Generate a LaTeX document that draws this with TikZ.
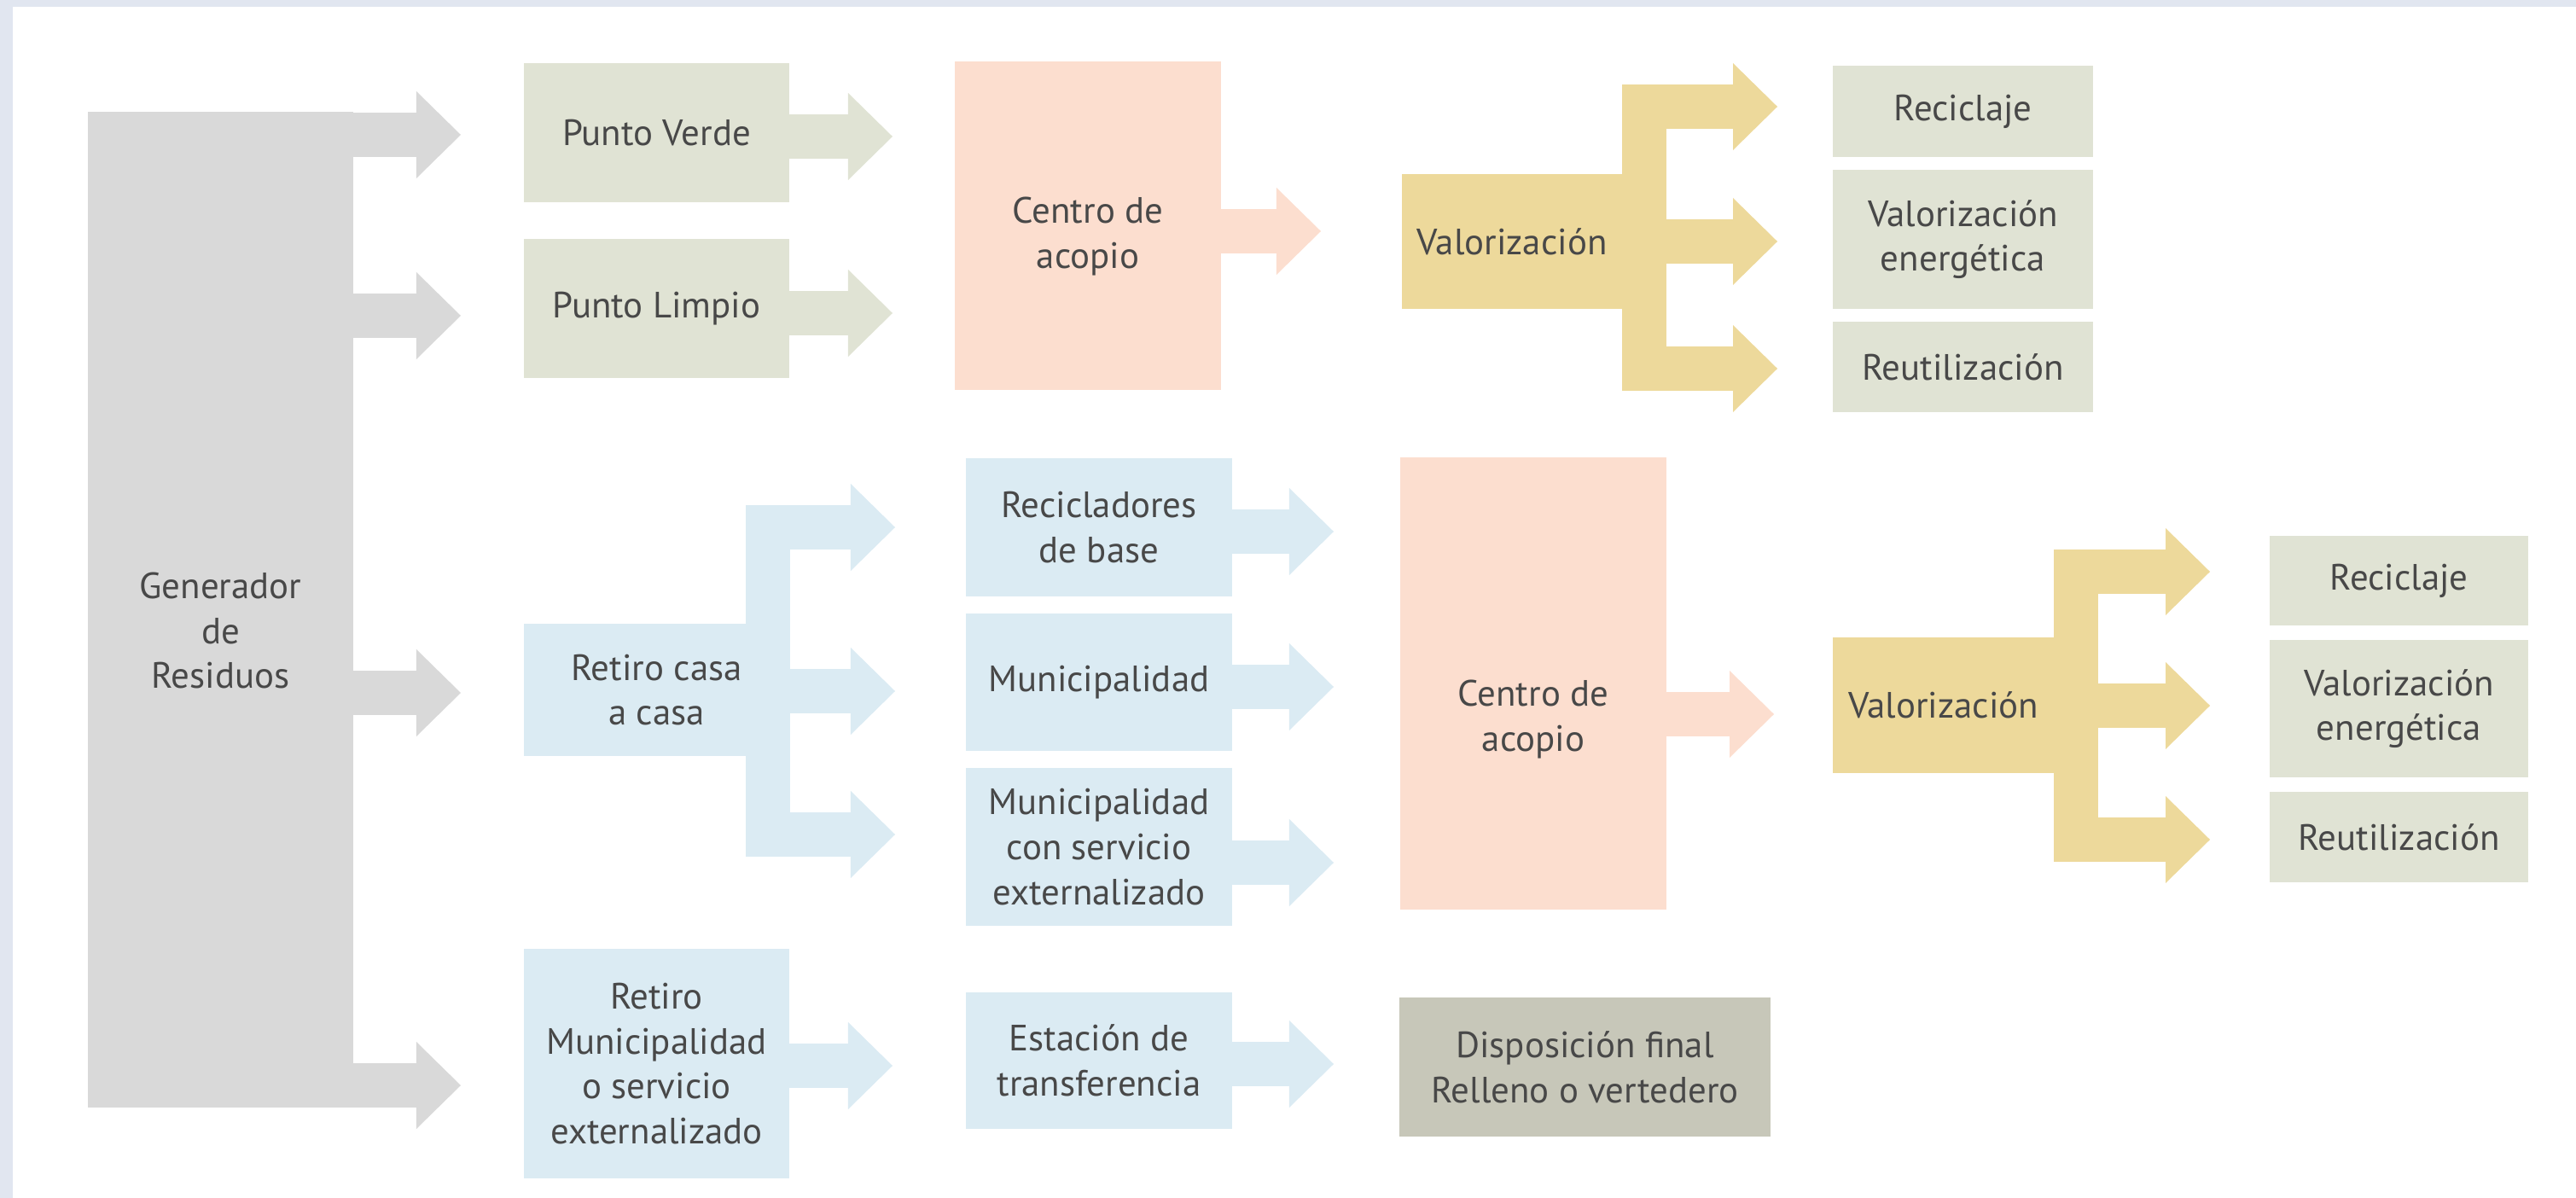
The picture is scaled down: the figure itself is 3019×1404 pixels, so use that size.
\documentclass[tikz,border=0pt]{standalone}
\usepackage{fontspec}
\setmainfont{PT Sans}
\usepackage{tikz}
\usetikzlibrary{arrows.meta,calc}
\definecolor{marco}{RGB}{225,230,240}
\definecolor{grisgen}{RGB}{217,217,217}
\definecolor{verdeclaro}{RGB}{224,227,212}
\definecolor{salmon}{RGB}{252,222,207}
\definecolor{dorado}{RGB}{237,217,155}
\definecolor{celeste}{RGB}{219,235,243}
\definecolor{grisfinal}{RGB}{199,199,185}
\definecolor{texto}{RGB}{72,72,72}

\begin{document}
\begin{tikzpicture}[x=0.01cm,y=-0.01cm,
    caja/.style={inner sep=0pt,align=center,text=texto,font=\fontsize{12.2}{15}\selectfont},
    flecha/.style={line width=0.52cm,shorten <=-0.03cm,-{Triangle[length=0.52cm,width=1.02cm,line width=0pt]}}]
                \useasboundingbox (0,0) rectangle (3019,1404);
                \fill [marco] (0,0) rectangle (3019,8);
                \fill [marco] (0,0) rectangle (15,1404);
                % cajas
                \node [caja,fill=grisgen,minimum width=3.11cm,minimum height=11.67cm,text height=1.85cm] (gen) at (258.5,714.5) {Generador\\de\\Residuos};
                \node [caja,fill=verdeclaro,minimum width=3.11cm,minimum height=1.63cm] (pv) at (769.5,155.5) {Punto Verde};
                \node [caja,fill=verdeclaro,minimum width=3.11cm,minimum height=1.63cm] (pl) at (769.5,361.5) {Punto Limpio};
                \node [caja,fill=celeste,minimum width=3.11cm,minimum height=1.55cm] (casa) at (769.5,808.5) {Retiro casa\\a casa};
                \node [caja,fill=celeste,minimum width=3.11cm,minimum height=2.69cm] (retiro) at (769.5,1246.5) {Retiro\\Municipalidad\\o servicio\\externalizado};
                \node [caja,fill=salmon,minimum width=3.12cm,minimum height=3.85cm,text height=1.08cm] (acopioA) at (1275,264.5) {Centro de\\acopio};
                \node [caja,fill=celeste,minimum width=3.12cm,minimum height=1.62cm] (recic) at (1288,618) {Recicladores\\de base};
                \node [caja,fill=celeste,minimum width=3.12cm,minimum height=1.61cm] (muni) at (1288,799.5) {Municipalidad};
                \node [caja,fill=celeste,minimum width=3.12cm,minimum height=1.85cm] (muniext) at (1288,992.5) {Municipalidad\\con servicio\\externalizado};
                \node [caja,fill=celeste,minimum width=3.12cm,minimum height=1.60cm] (estacion) at (1288,1243) {Estación de\\transferencia};
                \node [caja,fill=dorado,minimum width=2.58cm,minimum height=1.58cm] (valA) at (1772,283) {Valorización};
                \node [caja,fill=salmon,minimum width=3.12cm,minimum height=5.30cm,text height=1.67cm] (acopioB) at (1797,801) {Centro de\\acopio};
                \node [caja,fill=grisfinal,minimum width=4.35cm,minimum height=1.63cm] (final) at (1857.5,1250.5) {Disposición final\\Relleno o vertedero};
                \node [caja,fill=dorado,minimum width=2.59cm,minimum height=1.59cm] (valB) at (2277.5,826.5) {Valorización};
                \node [caja,fill=verdeclaro,minimum width=3.05cm,minimum height=1.07cm] (recA) at (2300.5,130.5) {Reciclaje};
                \node [caja,fill=verdeclaro,minimum width=3.05cm,minimum height=1.63cm] (energA) at (2300.5,280.5) {Valorización\\energética};
                \node [caja,fill=verdeclaro,minimum width=3.05cm,minimum height=1.06cm] (reuA) at (2300.5,430) {Reutilización};
                \node [caja,fill=verdeclaro,minimum width=3.03cm,minimum height=1.05cm] (recB) at (2811.5,680.5) {Reciclaje};
                \node [caja,fill=verdeclaro,minimum width=3.03cm,minimum height=1.61cm] (energB) at (2811.5,830.5) {Valorización\\energética};
                \node [caja,fill=verdeclaro,minimum width=3.03cm,minimum height=1.06cm] (reuB) at (2811.5,981) {Reutilización};
                % puntas de flecha
                \coordinate (g1) at (540,158);
                \coordinate (g2) at (540,370);
                \coordinate (g3) at (540,812);
                \coordinate (g4) at (540,1272);
                \coordinate (pvT) at (1046,160);
                \coordinate (plT) at (1046,367);
                \coordinate (retT) at (1046,1249);
                \coordinate (casaT1) at (1049,618);
                \coordinate (casaT2) at (1049,810);
                \coordinate (casaT3) at (1049,978);
                \coordinate (acoAT) at (1548,271);
                \coordinate (recT) at (1563,623);
                \coordinate (muniT) at (1563,805);
                \coordinate (extT) at (1563,1011);
                \coordinate (estT) at (1563,1247);
                \coordinate (valAT1) at (2083,125);
                \coordinate (valAT2) at (2083,283);
                \coordinate (valAT3) at (2083,432);
                \coordinate (acoBT) at (2079,837);
                \coordinate (valBT1) at (2590,670);
                \coordinate (valBT2) at (2590,827);
                \coordinate (valBT3) at (2590,984);
                % flechas
                \draw [flecha,grisgen] (gen.east |- g1)-- (g1);
                \draw [flecha,grisgen] (gen.east |- g2)-- (g2);
                \draw [flecha,grisgen] (gen.east |- g3)-- (g3);
                \draw [flecha,grisgen] (gen.east |- g4)-- (g4);
                \draw [flecha,verdeclaro] (pv.east |- pvT)-- (pvT);
                \draw [flecha,verdeclaro] (pl.east |- plT)-- (plT);
                \draw [flecha,celeste] ([xshift=-0.26cm]casa.east) |- (casaT1);
                \draw [flecha,celeste] (casa.east |- casaT2)-- (casaT2);
                \draw [flecha,celeste] ([xshift=-0.26cm]casa.east) |- (casaT3);
                \draw [flecha,celeste] (retiro.east |- retT)-- (retT);
                \draw [flecha,salmon] (acopioA.east |- acoAT)-- (acoAT);
                \draw [flecha,celeste] (recic.east |- recT)-- (recT);
                \draw [flecha,celeste] (muni.east |- muniT)-- (muniT);
                \draw [flecha,celeste] (muniext.east |- extT)-- (extT);
                \draw [flecha,celeste] (estacion.east |- estT)-- (estT);
                \draw [flecha,dorado] ([xshift=0.25cm]valA.east) |- (valAT1);
                \draw [flecha,dorado] (valA.east |- valAT2)-- (valAT2);
                \draw [flecha,dorado] ([xshift=0.25cm]valA.east) |- (valAT3);
                \draw [flecha,salmon] (acopioB.east |- acoBT)-- (acoBT);
                \draw [flecha,dorado] ([xshift=0.25cm]valB.east) |- (valBT1);
                \draw [flecha,dorado] (valB.east |- valBT2)-- (valBT2);
                \draw [flecha,dorado] ([xshift=0.25cm]valB.east) |- (valBT3);
            \end{tikzpicture}
\end{document}
